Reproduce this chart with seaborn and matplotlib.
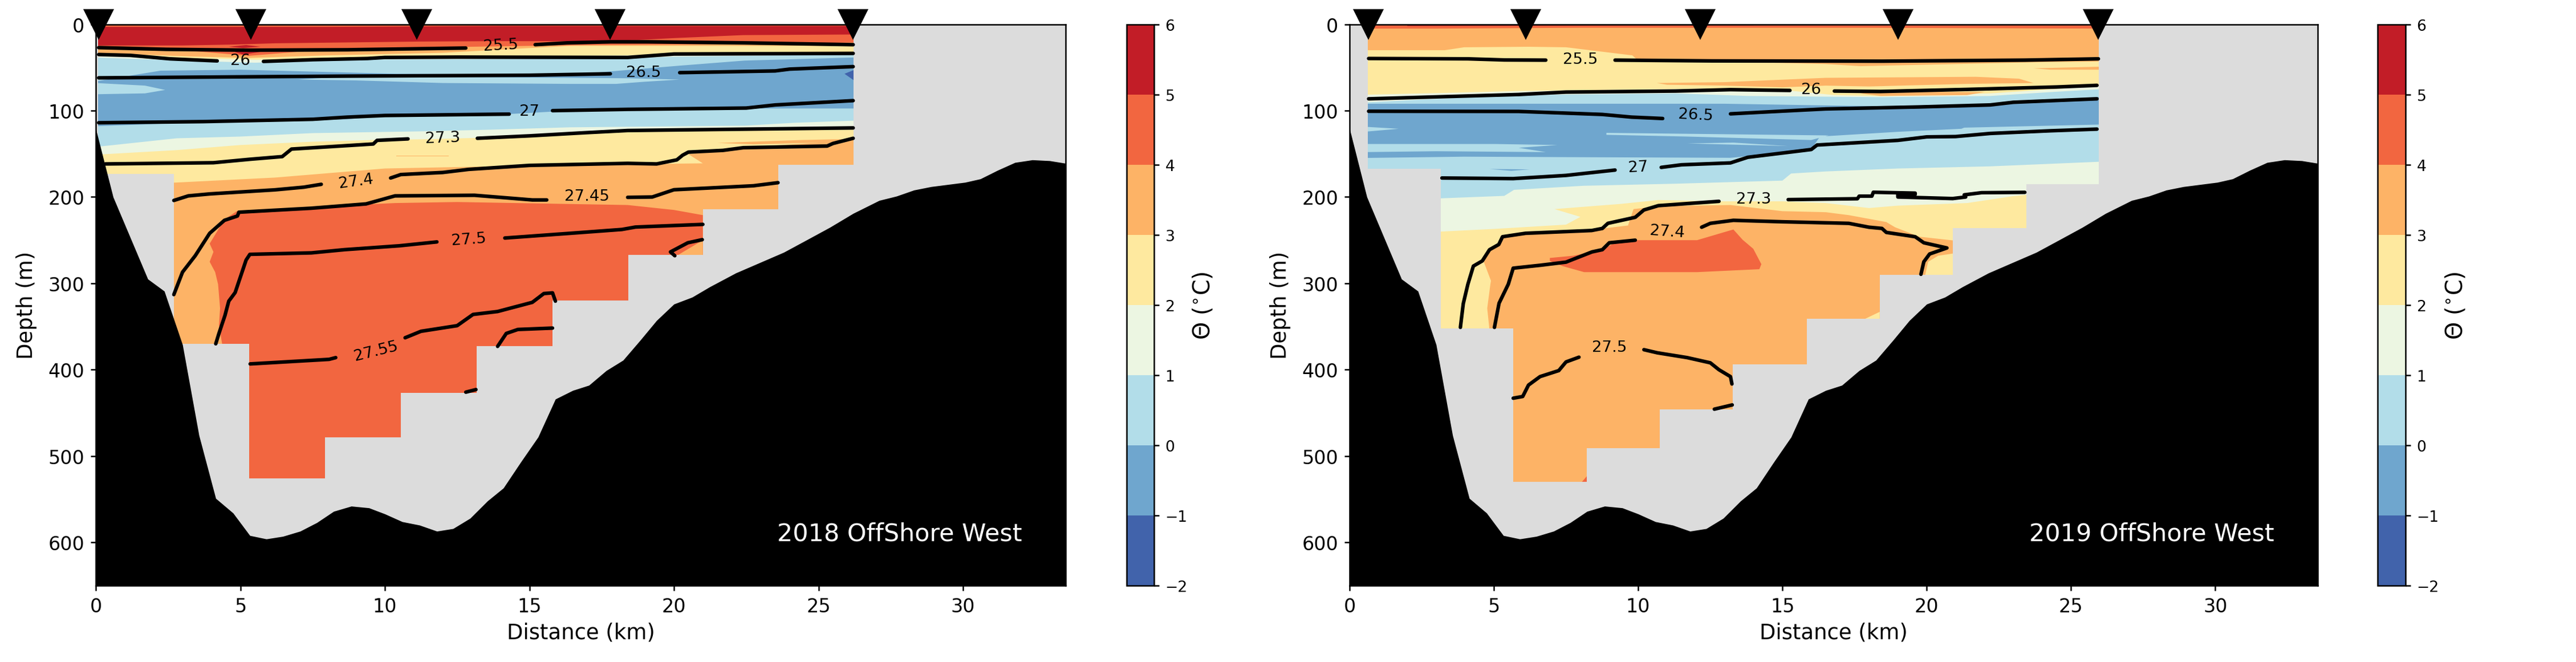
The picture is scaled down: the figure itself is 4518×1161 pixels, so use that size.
import numpy as np
import matplotlib
matplotlib.use('Agg')
import matplotlib.pyplot as plt
import seaborn as sns
from matplotlib.colors import ListedColormap, BoundaryNorm
from matplotlib.cm import ScalarMappable

# temperature classes, coldest first
theta_levels = [-2, -1, 0, 1, 2, 3, 4, 5, 6]
theta_colors = ['#4163ab', '#6fa6ce', '#b2dde9', '#ecf6e2', '#fee99f', '#fdb366', '#f26640', '#c21d27']
NV, BL, LB, PA, YE, OR, RO, RE = range(8)

xticks_km = [0, 5, 10, 15, 20, 25, 30]
yticks_m = [0, 100, 200, 300, 400, 500, 600]
XMAX = 33.55
ZMAX = 650

# sea floor, same in both sections
bathy_km = [0, 0.6, 1.8, 2.37, 3.0, 3.57, 4.15, 4.75, 5.33, 5.9, 6.47, 7.07, 7.65, 8.23, 8.84, 9.45, 10, 10.6,
            11.2, 11.8, 12.36, 12.95, 13.55, 14.1, 14.7, 15.3, 15.9, 16.5, 17.06, 17.66, 18.24, 18.83, 19.4, 20,
            20.63, 21.24, 22.14, 22.97, 23.8, 24.63, 25.4, 26.2, 27.1, 27.7, 28.3, 28.9, 30.07, 30.6, 31.2, 31.8,
            32.4, 33, 33.55]
bathy_m = [121, 200, 295, 309, 371, 476, 549, 566, 592, 596, 593, 587, 577, 564, 558, 560, 567, 576,
           580, 587, 584, 572, 552, 537, 507, 478, 434, 424, 418, 401, 389, 366, 343, 324,
           316, 304, 288, 276, 264, 249, 235, 219, 204, 199, 192, 188, 183, 179, 169, 160,
           157, 158, 161]

# station positions
stations_18 = [0.1, 5.37, 11.1, 17.8, 26.2]
stations_19 = [0.65, 6.1, 12.15, 19.0, 25.95]

# deepest sampled level along each section
edges_18 = [0, 0.08, 2.7, 5.3, 7.93, 10.55, 13.17, 15.8, 18.42, 21, 23.6, 26.22, XMAX]
bottoms_18 = [0, 173, 370, 526, 478, 427, 373, 320, 267, 214, 163, 0, 0]
edges_19 = [0, 0.63, 3.17, 5.67, 8.22, 10.75, 13.27, 15.85, 18.37, 20.9, 23.45, 25.97, XMAX]
bottoms_19 = [0, 167, 352, 530, 491, 446, 394, 341, 290, 236, 185, 0, 0]

# 2018 class tops
t18_red = [(0, 3), (8, 3), (14, 2), (26.3, 2)]
t18_ro = [(0, 24.5), (3, 24.5), (4.7, 23.5), (6.2, 22), (8.7, 21), (11.2, 20), (14, 19.5), (17.9, 19.6), (20, 16),
          (22.4, 12.5), (26.3, 11.8)]
t18_or = [(0, 26), (5.3, 31), (9, 28), (13, 26), (17, 24), (22.4, 23), (26.3, 21)]
t18_ye = [(0, 33), (3, 37), (5.3, 39), (8, 36), (12, 33), (16.4, 25), (26.3, 25)]
t18_pa = [(0, 35.5), (3, 39), (5.5, 41), (9, 39), (15, 37), (18.4, 36), (20, 34), (26.3, 33)]
t18_lb = [(0, 38.5), (3, 42), (5.5, 44.5), (9, 41), (15, 40), (18.4, 39.5), (20, 37.5), (26.3, 35)]
t18_bl = [(0, 66), (2.24, 53.7), (5, 52.6), (10.4, 57.3), (16.4, 58.5), (20.2, 47.9), (22.45, 42), (26.3, 38.4)]
t18_lb2 = [(0, 118), (4, 113), (8.7, 110), (10, 106), (14, 104.5), (16.4, 100), (22.7, 97.5), (26.3, 97.5)]
t18_pa2 = [(0, 142), (2.8, 132), (5, 130), (7.5, 126), (11.2, 124), (13.7, 122), (16.4, 119.3), (22.45, 117.4),
           (24.2, 114), (26.3, 111.5)]
t18_ye2 = [(0, 151), (2.8, 145.7), (5, 139.8), (7.5, 136), (9.6, 134), (11.6, 133), (13.2, 131.5), (15, 128),
           (18.4, 122.5), (26.3, 122)]
t18_or2 = [(0, 188), (2.7, 183.4), (6.2, 177.5), (10, 167), (13, 165), (16.4, 163), (19.4, 161.7), (21, 161),
           (20.5, 150.4), (21.7, 146), (23, 141.5), (26.3, 134)]
t18_ro2 = [(4.37, 370), (4.26, 348), (4.3, 329), (4.23, 301), (4.13, 287), (3.94, 275), (4.07, 263.6), (3.94, 254),
           (4.45, 226), (4.88, 216.4), (7.34, 211.7), (10.36, 207), (12.5, 205.8), (18.4, 209.3), (20, 215), (21, 221)]

# 2018 small patches
p18_red1 = [(4.6, 26), (5.2, 24), (5.7, 26), (5.1, 27.5)]
p18_ro1 = [(3.2, 30.5), (7.5, 30.5), (5.3, 36.5)]
p18_red2 = [(4.8, 32), (5.7, 32), (5.1, 35)]
p18_lb1 = [(8.7, 60.5), (12, 61), (16.4, 62), (18.4, 62.5), (20.2, 64), (19, 66.5), (18, 69), (16.4, 69), (12, 68),
           (9, 65), (7, 64)]
p18_lb2 = [(0, 68), (1.7, 71), (2.4, 76), (1.7, 80), (0, 81)]
p18_nv = [(26.25, 52.6), (25.9, 57.3), (26.25, 65.5)]
p18_or1 = [(21.5, 137.4), (24.4, 134), (26.3, 132.7), (26.3, 136), (22.75, 139)]
p18_or2 = [(10.4, 152), (12.2, 152), (12.2, 152.6), (10.4, 152.6)]
p18_or3 = [(20.1, 268), (21, 250), (21, 268)]

# 2018 density contours, split where the label sits
c18_255a = [(0.1, 27), (2.43, 29), (5.33, 30), (8.7, 29.5), (12.8, 27.5)]
c18_255b = [(15.2, 23.6), (16.3, 21.5), (17.8, 20.3), (19.1, 20.3), (22.45, 21.5), (26.2, 23.6)]
c18_26a = [(0.1, 35), (1.2, 36), (2.56, 40), (4.2, 42.4)]
c18_26b = [(5.8, 43), (7.5, 41), (9.4, 39.6), (10, 38.4), (12.5, 38), (18.4, 38.4), (20, 34.4), (26.2, 33.7)]
c18_265a = [(0.1, 62), (8.7, 60), (15, 59), (17.8, 57.3)]
c18_265b = [(20.2, 56), (23.5, 54), (24, 51.9), (26.2, 49)]
c18_27a = [(0.1, 114), (3.7, 112.7), (7.5, 110), (8.7, 107.5), (10, 105.6), (14.3, 104)]
c18_27b = [(15.8, 100), (18.4, 98.5), (22.5, 97), (23.5, 93.4), (26.2, 88.4)]
c18_273a = [(0.33, 161.7), (4.07, 160.3), (5.33, 156.3), (6.45, 153.2), (6.77, 144.5), (9.6, 138.6), (9.73, 134.4),
            (10.8, 132.7)]
c18_273b = [(13.2, 132), (15, 129.2), (16.9, 125.6), (18.4, 123), (26.2, 120)]
c18_274a = [(2.7, 204), (3.2, 198.7), (3.95, 196.4), (6.2, 191.7), (7.2, 188.6), (7.8, 185.3)]
c18_274b = [(10.2, 178), (10.55, 174), (12, 171.6), (12.9, 168), (15, 163.4), (18.4, 161), (19.4, 161.7), (20.1, 157),
            (20.3, 151.6), (20.5, 148), (21.7, 146), (22.4, 142.9), (25.3, 141), (25.5, 138), (26.2, 132)]
c18_2745a = [(2.7, 313), (3, 287), (3.44, 268), (3.94, 242), (4.45, 227), (4.9, 222), (4.95, 217.6), (7.45, 213),
             (9.35, 208), (10.35, 198.7), (13.1, 198), (15.1, 203.4), (15.6, 203.4)]
c18_2745b = [(18.4, 200.4), (19.25, 200), (20, 191.6), (22.75, 187), (23.6, 183.4)]
c18_275a = [(4.15, 370), (4.26, 358), (4.47, 337), (4.6, 320.6), (4.82, 310.7), (5.2, 273), (5.33, 266.4), (7.46, 264.7),
            (8.6, 261), (10.5, 256.5), (11.8, 252)]
c18_275b = [(14.15, 247.5), (16.3, 242.3), (18.2, 237.6), (18.67, 234.8), (21, 231.7)]
c18_2755a = [(5.34, 393.3), (8.07, 388), (8.3, 386)]
c18_2755b = [(10.7, 363), (11.25, 355.5), (12.5, 349), (13.05, 336), (13.9, 332.6), (15.1, 322), (15.5, 311.8),
             (15.8, 311), (15.9, 320.6)]
c18_2755c = [(13.9, 373), (14.2, 358), (14.6, 353.4), (15.8, 351.8)]
c18_2755d = [(12.8, 426), (13.15, 423)]
c18_2755e = [(20.03, 268), (19.88, 263.6), (20.48, 253), (20.98, 249.4)]

labels_18 = ['25.5', '26', '26.5', '27', '27.3', '27.4', '27.45', '27.5', '27.55']
label_km_18 = [14, 5, 18.95, 15, 12, 9, 17, 12.9, 9.7]
label_m_18 = [24.3, 42, 55.6, 100.4, 131.5, 181.5, 199, 249, 378.5]
label_rot_18 = [3, 0, 0, 0, 2, 8, 0, 4, 14]

# 2019 class tops
t19_or = [(0, 5), (3, 5), (8, 4), (18, 4), (26.1, 5)]
t19_ye = [(0, 30), (3.3, 30), (3.97, 26.6), (6.2, 26), (7.5, 26.6), (9.8, 36), (10, 42), (13, 43), (16.5, 46),
          (17.7, 48.5), (23.7, 44), (26.1, 43)]
t19_pa = [(0, 82), (3, 79.7), (5.86, 77.3), (11.3, 75), (13.2, 74), (15, 76), (16.8, 82), (18.45, 83.2), (20, 82),
          (22.2, 80), (24.5, 75), (26.1, 70)]
t19_lb = [(0, 91.5), (2.6, 87), (5.86, 82), (11.3, 80), (13.8, 83), (18.45, 84.4), (22.2, 83), (24.3, 78.5), (26.1, 75)]
t19_bl = [(0, 92), (13, 92), (18.45, 95), (22.2, 92), (23, 89), (26.1, 84)]
t19_lb2 = [(0, 155), (3.97, 153.3), (8.76, 154), (13.2, 154.6), (13.8, 152.7), (16, 144.5), (16.3, 130), (19, 124.5),
           (21.2, 121), (21.3, 119.7), (26.1, 116)]
t19_pa2 = [(0, 204), (3.18, 201.5), (5.36, 198.7), (5.7, 191.7), (8.1, 187), (11.3, 184.6), (15, 181), (15.3, 172.8),
           (16.5, 170.4), (19, 167), (22.2, 164.5), (26.1, 159)]
t19_ye2 = [(0, 242), (3.18, 240), (5, 237), (7.5, 232), (8, 223), (7.1, 214), (9.4, 208), (10.7, 203.5), (12.8, 205),
           (15, 205), (16.5, 207), (18, 212.8), (19, 210), (21.4, 207), (23, 199), (23.6, 197)]
t19_or2 = [(4.84, 351), (4.77, 329), (4.88, 301), (4.9, 297), (4.65, 275), (4.85, 261), (5.17, 254), (5.23, 247),
           (6.2, 240), (8.4, 238), (9.65, 233), (9.84, 214), (10.78, 210.5), (13.2, 209.3), (15, 216.4), (16.5, 217.6),
           (17.3, 221), (18.6, 229), (18.9, 235), (19.75, 246), (21, 250.6), (21, 265), (20.4, 268), (20.05, 275),
           (19.95, 290)]

# 2019 small patches
p19_red = [(2, 0), (14, 0), (14, 1.2), (2, 2)]
p19_or1 = [(10.65, 68), (13, 67), (16.5, 62), (21.7, 60.8), (23.2, 63), (23.7, 68), (21.4, 69), (18, 72), (16.5, 71),
           (15, 73), (13, 71), (11, 70)]
p19_or2 = [(23.7, 51), (26.1, 49), (26.1, 52.6), (24.3, 52.6)]
p19_or3 = [(18.1, 78), (22, 78.5), (21.4, 82), (18.4, 83), (17.7, 80)]
p19_lb1 = [(0.5, 138.6), (5, 138.6), (7.2, 139.8), (5.86, 143), (6.8, 148), (3, 147), (0.5, 148)]
p19_lb2 = [(8.9, 125.7), (16.6, 128.7), (16, 134), (11.7, 130), (8.9, 128)]
p19_lb3 = [(11.7, 138), (15.2, 141), (13.3, 137)]
p19_lb4 = [(0.5, 118.6), (1.7, 121), (0.5, 124.5)]
p19_bl1 = [(4.85, 167.6), (6.24, 168), (5.6, 169.7)]
p19_ro1 = [(6.94, 270.6), (7.76, 268), (8.76, 261), (9.14, 254), (9.9, 250), (12.04, 250), (13.3, 237.6), (13.62, 249.5),
           (13.99, 260), (14.27, 277.8), (14.2, 283.6), (12.04, 287), (8.13, 287), (7.38, 280), (6.94, 274)]
p19_ro2 = [(8.05, 530), (8.23, 523), (8.23, 530)]
p19_ye1 = [(17.87, 341), (18.37, 333), (18.37, 341)]

# 2019 density contours
c19_255a = [(0.66, 39.6), (4.1, 40), (5.36, 41.3), (6.8, 41.5)]
c19_255b = [(9.2, 41.5), (12.55, 42.4), (18.45, 42.7), (23.4, 41.5), (25.95, 40)]
c19_26a = [(0.66, 86.3), (5.86, 81.3), (7.5, 78.5), (11.3, 77.3), (13.2, 75.7), (15.26, 76.6)]
c19_26b = [(16.8, 77.3), (18.4, 77.8), (21.4, 75.4), (24.5, 72.6), (25.9, 70.7)]
c19_265a = [(0.66, 100.7), (5.86, 100.9), (8.76, 104.4), (9.77, 107.5), (10.85, 109.1)]
c19_265b = [(13.2, 103.7), (14.8, 100.9), (16.5, 98), (19.75, 95.7), (22.2, 93.4), (23, 90.3), (25.9, 86.3)]
c19_27a = [(3.2, 178), (5.67, 178.7), (7.5, 175), (9.2, 168.8)]
c19_27b = [(10.8, 165.7), (11.5, 162.7), (13.2, 160.5), (13.8, 154), (16, 145), (16.2, 139.8), (19, 134.4), (20, 130.4),
           (21, 130), (22.2, 126.4), (24.3, 123.3), (25.9, 121.4)]
c19_273a = [(3.84, 351), (3.94, 323.5), (4.1, 301), (4.29, 280), (4.6, 274), (4.85, 261), (5.17, 255), (5.3, 246),
            (6.1, 242), (8.39, 238.8), (8.76, 236.4), (8.95, 230.5), (9.9, 223.5), (10.2, 215), (10.7, 210), (12.8, 205)]
c19_273b = [(15.2, 203), (17.6, 202), (17.66, 199), (18.1, 199), (18.15, 194.5), (19.6, 195.5), (19.6, 197), (19, 197),
            (19, 200), (20.9, 201.8), (21.35, 200), (21.3, 197.5), (21.9, 195), (23.4, 194.6)]
c19_274a = [(5.02, 351), (5.18, 323), (5.5, 301), (5.67, 282.4), (6.62, 279), (7.5, 275.4), (8.4, 263.6), (8.76, 261),
            (9, 253), (9.9, 250)]
c19_274b = [(12.2, 235), (12.5, 230.5), (13.3, 227), (15, 228.7), (17.3, 230.5), (18, 235), (18.45, 236.4), (18.6, 241),
            (19.6, 246), (19.9, 253), (20.7, 259), (20.1, 266), (19.9, 275), (19.8, 289.5)]
c19_275a = [(5.67, 433), (6, 431), (6.2, 417.8), (6.6, 408), (7.25, 401), (7.5, 391), (7.95, 385.5)]
c19_275b = [(10.2, 376.8), (10.66, 380.4), (11.7, 386), (12.5, 392), (12.8, 400), (13.2, 408), (13.25, 416.5)]
c19_275c = [(12.64, 445.7), (13.26, 440.8)]

labels_19 = ['25.5', '26', '26.5', '27', '27.3', '27.4', '27.5']
label_km_19 = [8, 16, 12, 10, 14, 11, 9]
label_m_19 = [40.8, 75.7, 105, 165.7, 202, 240, 374]
label_rot_19 = [0, 0, -3, 3, 0, -4, 0]

GREY = '#dcdcdc'
pal = sns.color_palette(theta_colors)

sns.set_style('ticks', {'axes.edgecolor': 'k', 'xtick.color': 'k', 'ytick.color': 'k',
                        'text.color': 'k', 'axes.labelcolor': 'k'})
plt.rcParams['font.family'] = ['DejaVu Sans']

fig = plt.figure(figsize=(15.06, 3.8733), dpi=300)
W, H = 4518, 1162


def place(x0, x1, y0=43.6, y1=1028):
    return fig.add_axes([x0 / W, 1 - y1 / H, (x1 - x0) / W, (y1 - y0) / H])


def layer(ax, pts, c):
    # paint from this boundary down to the bottom of the plot
    xs = [p[0] for p in pts]
    zs = [p[1] for p in pts]
    ax.fill(xs + [xs[-1], xs[0]], zs + [ZMAX, ZMAX], color=pal[c], lw=0)


def patch(ax, pts, c):
    ax.fill([p[0] for p in pts], [p[1] for p in pts], color=pal[c], lw=0)


def section(ax, base, layers, patches, edges, bottoms, contours, stations, labels, lkm, lm, lrot, title):
    ax.fill([0, XMAX, XMAX, 0], [0, 0, ZMAX, ZMAX], color=pal[base], lw=0)
    for pts, c in layers:
        layer(ax, pts, c)
    for pts, c in patches:
        patch(ax, pts, c)
    ax.fill_between(edges, bottoms, ZMAX, step='post', color=GREY, lw=0)
    ax.fill_between(bathy_km, bathy_m, ZMAX, color='k', lw=0)
    for pts in contours:
        sns.lineplot(x=[p[0] for p in pts], y=[p[1] for p in pts], sort=False, estimator=None,
                     color='k', lw=1.5, ax=ax, zorder=5, legend=False)
    for s, x, z, r in zip(labels, lkm, lm, lrot):
        ax.text(x, z, s, fontsize=6.6, rotation=r, ha='center', va='center', zorder=6)
    ax.plot(stations, [0] * len(stations), 'v', color='k', ms=13, mew=0, clip_on=False, zorder=10)
    ax.text(0.955, 0.093, title, transform=ax.transAxes, color='w', fontsize=10.3, ha='right', va='center')
    ax.set_xlim(0, XMAX)
    ax.set_ylim(ZMAX, 0)
    ax.set_xticks(xticks_km)
    ax.set_yticks(yticks_m)
    ax.tick_params(labelsize=8, length=2.2, width=0.6, pad=2.5)
    ax.set_xlabel('Distance (km)', fontsize=8.9, va='center')
    ax.set_ylabel('Depth (m)', fontsize=8.9, va='center')
    ax.xaxis.set_label_coords(0.5, -0.083)
    ax.yaxis.set_label_coords(-0.0715, 0.5)
    for sp in ax.spines.values():
        sp.set_visible(True)
        sp.set_linewidth(0.6)


def add_cbar(x0, x1):
    cax = place(x0, x1)
    sm = ScalarMappable(norm=BoundaryNorm(theta_levels, len(theta_colors)), cmap=ListedColormap(theta_colors))
    cb = fig.colorbar(sm, cax=cax, ticks=theta_levels)
    cb.ax.tick_params(labelsize=6.4, length=2.2, width=0.6, pad=2.5)
    cb.set_label(r'$\Theta$ ($^{\circ}$C)', fontsize=9.5, va='center')
    cb.ax.yaxis.set_label_coords(2.8, 0.5)
    cb.outline.set_linewidth(0.6)


ax1 = place(168, 1869)
section(ax1, RO,
        [(t18_red, RE), (t18_ro, RO), (t18_or, OR), (t18_ye, YE), (t18_pa, PA), (t18_lb, LB), (t18_bl, BL),
         (t18_lb2, LB), (t18_pa2, PA), (t18_ye2, YE), (t18_or2, OR), (t18_ro2, RO)],
        [(p18_ro1, RO), (p18_red1, RE), (p18_red2, RE), (p18_lb1, LB), (p18_lb2, LB), (p18_nv, NV),
         (p18_or1, OR), (p18_or2, OR), (p18_or3, OR)],
        edges_18, bottoms_18,
        [c18_255a, c18_255b, c18_26a, c18_26b, c18_265a, c18_265b, c18_27a, c18_27b, c18_273a, c18_273b,
         c18_274a, c18_274b, c18_2745a, c18_2745b, c18_275a, c18_275b, c18_2755a, c18_2755b, c18_2755c,
         c18_2755d, c18_2755e],
        stations_18, labels_18, label_km_18, label_m_18, label_rot_18, '2018 OffShore West')
add_cbar(1976, 2024)

ax2 = place(2367, 4065)
section(ax2, RO,
        [(t19_or, OR), (t19_ye, YE), (t19_pa, PA), (t19_lb, LB), (t19_bl, BL), (t19_lb2, LB), (t19_pa2, PA),
         (t19_ye2, YE), (t19_or2, OR)],
        [(p19_red, RE), (p19_or1, OR), (p19_or2, OR), (p19_or3, OR), (p19_lb1, LB), (p19_lb2, LB), (p19_lb3, LB),
         (p19_lb4, LB), (p19_bl1, BL), (p19_ro1, RO), (p19_ro2, RO), (p19_ye1, YE)],
        edges_19, bottoms_19,
        [c19_255a, c19_255b, c19_26a, c19_26b, c19_265a, c19_265b, c19_27a, c19_27b, c19_273a, c19_273b,
         c19_274a, c19_274b, c19_275a, c19_275b, c19_275c],
        stations_19, labels_19, label_km_19, label_m_19, label_rot_19, '2019 OffShore West')
add_cbar(4170, 4219)

fig.savefig('out.png', dpi=300)
